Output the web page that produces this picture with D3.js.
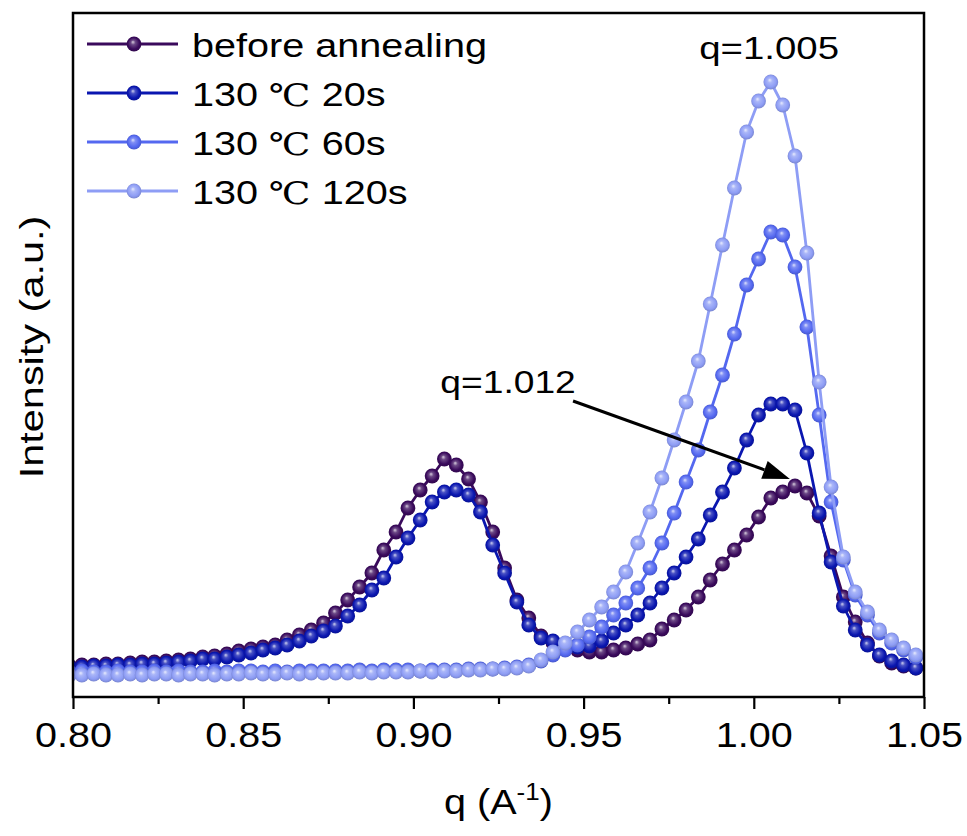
<!DOCTYPE html>
<html>
<head>
<meta charset="utf-8">
<script src="https://cdn.jsdelivr.net/npm/d3@7"></script>
<style>
  html, body { margin: 0; padding: 0; background: #fff; }
  svg { display: block; }
  text { font-family: "Liberation Sans", Arial, sans-serif; fill: #000; }
</style>
</head>
<body>
<svg id="chart" width="967" height="836"></svg>
<script>
// ---------------- data ----------------
const qValues = [
  0.7990, 0.8026, 0.8061, 0.8097, 0.8132, 0.8168, 0.8203, 0.8239, 0.8274, 0.8310,
  0.8345, 0.8381, 0.8416, 0.8452, 0.8487, 0.8523, 0.8558, 0.8594, 0.8629, 0.8665,
  0.8700, 0.8736, 0.8771, 0.8807, 0.8842, 0.8878, 0.8913, 0.8949, 0.8984, 0.9020,
  0.9055, 0.9091, 0.9126, 0.9162, 0.9197, 0.9233, 0.9268, 0.9304, 0.9339, 0.9375,
  0.9410, 0.9446, 0.9482, 0.9517, 0.9553, 0.9588, 0.9624, 0.9659, 0.9695, 0.9730,
  0.9766, 0.9801, 0.9837, 0.9872, 0.9908, 0.9943, 0.9979, 1.0014, 1.0050, 1.0085,
  1.0121, 1.0156, 1.0192, 1.0227, 1.0263, 1.0298, 1.0334, 1.0369, 1.0405, 1.0440,
  1.0476
];

const beforeAnnealing = [
  31, 32, 32, 33, 33, 34, 35, 35, 36, 37,
  38, 40, 41, 43, 46, 48, 50, 52, 57, 62,
  67, 74, 84, 97, 110, 124, 147, 165, 189, 207,
  221, 238, 232, 218, 195, 165, 129, 97, 79, 61,
  54, 50, 47, 45, 45, 47, 49, 53, 57, 68,
  77, 87, 100, 117, 133, 147, 162, 180, 199, 205,
  211, 204, 181, 141, 100, 75, 54, 41, 34, 31,
  29
];

const anneal20s = [
  30, 30, 31, 31, 32, 32, 33, 33, 34, 35,
  36, 38, 38, 40, 42, 44, 47, 49, 52, 56,
  61, 66, 71, 81, 92, 107, 119, 140, 159, 177,
  195, 205, 207, 202, 185, 152, 124, 95, 72, 59,
  56, 52, 50, 51, 56, 64, 72, 82, 94, 109,
  124, 140, 158, 182, 205, 229, 257, 282, 293, 293,
  287, 244, 184, 135, 91, 67, 52, 42, 36, 32,
  29
];

const anneal60s = [
  25, 26, 25, 25, 26, 25, 25, 26, 25, 26,
  25, 25, 26, 25, 26, 26, 25, 26, 25, 26,
  26, 26, 26, 26, 27, 26, 27, 27, 27, 26,
  27, 27, 27, 28, 28, 28, 29, 30, 32, 36,
  42, 47, 52, 60, 70, 82, 94, 109, 129, 154,
  184, 215, 247, 285, 322, 363, 412, 438, 465, 462,
  430, 370, 282, 195, 137, 102, 82, 64, 54, 47,
  40
];

const anneal120s = [
  22, 22, 23, 22, 22, 23, 22, 23, 23, 22,
  23, 23, 22, 23, 23, 24, 23, 23, 24, 23,
  24, 24, 24, 24, 25, 24, 25, 25, 25, 26,
  25, 26, 26, 27, 27, 28, 28, 29, 31, 37,
  45, 54, 65, 77, 90, 105, 125, 154, 185, 219,
  257, 295, 336, 393, 452, 509, 565, 596, 615, 592,
  541, 444, 315, 210, 140, 105, 85, 67, 57, 49,
  42
];

const seriesNames = ["before annealing", "130 \u2103 20s", "130 \u2103 60s", "130 \u2103 120s"];
const seriesColors = ["#3a0a5c", "#0a16b0", "#5468f0", "#8e9df5"];
const xTickValues = [0.80, 0.85, 0.90, 0.95, 1.00, 1.05];
const xMinorTicks = [0.825, 0.875, 0.925, 0.975, 1.025];
const xDomain = [0.80, 1.05];
const yDomain = [0, 684];

// annotations (data units)
const peakLabel = { text: "q=1.005", q: 1.0045, v: 638 };
const shiftLabel = { text: "q=1.012", q: 0.9278, v: 304 };
const arrowFrom = { q: 0.9469, v: 296 };
const arrowTo = { q: 1.0106, v: 218 };

// ---------------- layout ----------------
const svg = d3.select("#chart");
const plot = { left: 73, right: 924, top: 13, bottom: 697 };
const x = d3.scaleLinear().domain(xDomain).range([plot.left, plot.right]);
const y = d3.scaleLinear().domain(yDomain).range([plot.bottom, plot.top]);
const SX = 1.2; // horizontal glyph stretch of reference text

const defs = svg.append("defs");
defs.append("clipPath").attr("id", "plotClip")
  .append("rect")
  .attr("x", plot.left).attr("y", plot.top)
  .attr("width", plot.right - plot.left).attr("height", plot.bottom - plot.top);

seriesColors.forEach((c, i) => {
  const g = defs.append("radialGradient").attr("id", "ball" + i)
    .attr("cx", "50%").attr("cy", "50%").attr("r", "55%")
    .attr("fx", "42%").attr("fy", "36%");
  g.append("stop").attr("offset", "0%").attr("stop-color", d3.interpolateRgb(c, "#ffffff")(0.8));
  g.append("stop").attr("offset", "28%").attr("stop-color", d3.interpolateRgb(c, "#ffffff")(0.25));
  g.append("stop").attr("offset", "70%").attr("stop-color", c);
  g.append("stop").attr("offset", "100%").attr("stop-color", d3.color(c).darker(0.6).formatHex());
});

const allSeries = [beforeAnnealing, anneal20s, anneal60s, anneal120s];
const R = 7.4;

const dataG = svg.append("g").attr("clip-path", "url(#plotClip)");
const line = d3.line().x(d => x(d.q)).y(d => y(d.v));

allSeries.forEach((vals, i) => {
  const pts = qValues.map((q, j) => ({ q, v: vals[j] }));
  const g = dataG.append("g");
  g.append("path").datum(pts)
    .attr("d", line)
    .attr("fill", "none")
    .attr("stroke", seriesColors[i])
    .attr("stroke-width", 2.8)
    .attr("stroke-linejoin", "round");
  g.selectAll("circle").data(pts).join("circle")
    .attr("cx", d => x(d.q)).attr("cy", d => y(d.v)).attr("r", R)
    .attr("fill", `url(#ball${i})`);
});

// ---------------- frame & axes ----------------
svg.append("rect")
  .attr("x", plot.left).attr("y", plot.top)
  .attr("width", plot.right - plot.left).attr("height", plot.bottom - plot.top)
  .attr("fill", "none").attr("stroke", "#000").attr("stroke-width", 2.5);

const TX = 1.13;
const xAxis = d3.axisBottom(x).tickValues(xTickValues).tickFormat(d3.format(".2f"))
  .tickSize(12).tickPadding(13);
const axG = svg.append("g").attr("transform", `translate(0,${plot.bottom})`).call(xAxis);
axG.select(".domain").remove();
axG.selectAll(".tick line").attr("stroke", "#000").attr("stroke-width", 2.2);
axG.selectAll(".tick text")
  .attr("font-size", 35)
  .attr("font-family", "Liberation Sans, Arial, sans-serif")
  .attr("fill", "#000")
  .attr("transform", `scale(${TX},1)`);

const minorAxis = d3.axisBottom(x).tickValues(xMinorTicks).tickFormat("").tickSize(7);
const mG = svg.append("g").attr("transform", `translate(0,${plot.bottom})`).call(minorAxis);
mG.select(".domain").remove();
mG.selectAll(".tick line").attr("stroke", "#000").attr("stroke-width", 2.2);

// axis titles
const xt = svg.append("g").attr("transform", `translate(${(plot.left + plot.right) / 2},814) scale(${TX},1)`)
  .append("text").attr("text-anchor", "middle").attr("font-size", 35);
xt.append("tspan").text("q (A");
xt.append("tspan").attr("font-size", 23).attr("dy", -14).text("-1");
xt.append("tspan").attr("dy", 14).text(")");

svg.append("text")
  .attr("transform", `translate(43,${(plot.top + plot.bottom) / 2 - 8}) rotate(-90) scale(1.22,1)`)
  .attr("text-anchor", "middle").attr("font-size", 34)
  .text("Intensity (a.u.)");

// ---------------- legend ----------------
const legendRows = [44, 93, 142, 191];
seriesNames.forEach((name, i) => {
  const ly = legendRows[i];
  const g = svg.append("g");
  g.append("line").attr("x1", 87).attr("x2", 178).attr("y1", ly).attr("y2", ly)
    .attr("stroke", seriesColors[i]).attr("stroke-width", 3);
  g.append("circle").attr("cx", 134).attr("cy", ly).attr("r", R).attr("fill", `url(#ball${i})`);
  const t = g.append("g").attr("transform", `translate(192,${ly + 13}) scale(${SX},1)`)
    .append("text").attr("font-size", 33);
  if (i === 0) {
    t.text(name);
  } else {
    const parts = name.split("\u2103");
    t.append("tspan").text(parts[0]);
    t.append("tspan").attr("font-family", "'Liberation Serif', 'DejaVu Serif', serif").attr("font-size", 31).text("\u2103");
    t.append("tspan").text(parts[1]);
  }
});

// ---------------- annotations ----------------
svg.append("g").attr("transform", `translate(${x(peakLabel.q)},${y(peakLabel.v)}) scale(${SX},1)`)
  .append("text").attr("text-anchor", "middle").attr("font-size", 32).text(peakLabel.text);
svg.append("g").attr("transform", `translate(${x(shiftLabel.q)},${y(shiftLabel.v)}) scale(${SX},1)`)
  .append("text").attr("text-anchor", "middle").attr("font-size", 31).text(shiftLabel.text);

const ax1 = x(arrowFrom.q), ay1 = y(arrowFrom.v), ax2 = x(arrowTo.q), ay2 = y(arrowTo.v);
const ang = Math.atan2(ay2 - ay1, ax2 - ax1);
const headLen = 27, headW = 9.5;
const bx = ax2 - headLen * Math.cos(ang), by = ay2 - headLen * Math.sin(ang);
svg.append("line").attr("x1", ax1).attr("y1", ay1).attr("x2", bx).attr("y2", by)
  .attr("stroke", "#000").attr("stroke-width", 3);
svg.append("path")
  .attr("d", `M${ax2},${ay2} L${bx + headW * Math.sin(ang)},${by - headW * Math.cos(ang)} L${bx - headW * Math.sin(ang)},${by + headW * Math.cos(ang)} Z`)
  .attr("fill", "#000");
</script>
</body>
</html>
